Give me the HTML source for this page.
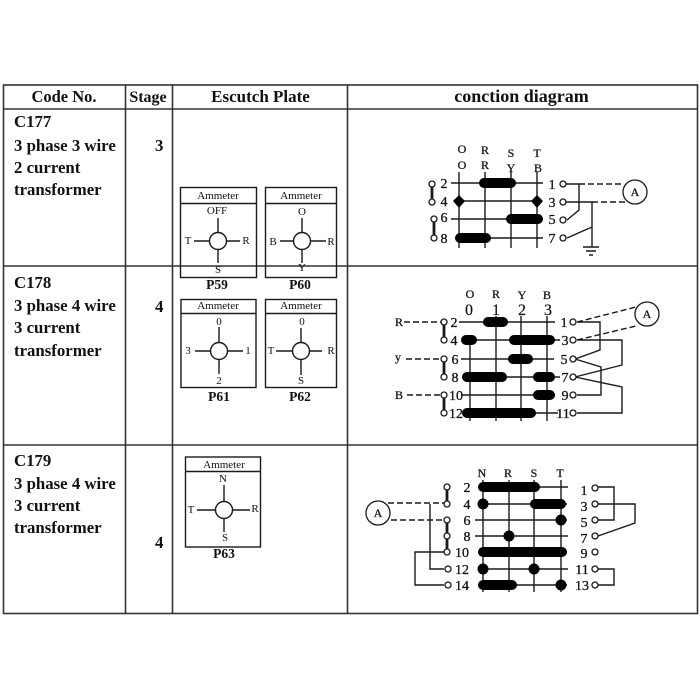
<!DOCTYPE html>
<html><head><meta charset="utf-8"><style>
html,body{margin:0;padding:0;background:#fff}
svg{display:block}
text{font-family:"Liberation Serif",serif;fill:#111}
.h{font-size:16.5px;font-weight:bold;text-anchor:middle}
.t{font-size:16.8px;font-weight:bold}
.n{font-size:14px;text-anchor:middle;stroke:#111;stroke-width:.3}
.g{font-size:16px;text-anchor:middle;stroke:#111;stroke-width:.2}
.s{font-size:12px;text-anchor:middle;stroke:#111;stroke-width:.25}
.m{font-size:11px;text-anchor:middle}
.p{font-size:13.500px;text-anchor:middle;font-weight:bold}
.l{stroke:#1a1a1a;stroke-width:1.4;fill:none}
.d{stroke:#1a1a1a;stroke-width:1.4;fill:none;stroke-dasharray:6 3}
.bar{stroke:#000;stroke-width:10;stroke-linecap:round;fill:none}
.o{fill:#fff;stroke:#1a1a1a;stroke-width:1.3}
.tb{stroke:#333;stroke-width:1.6;fill:none}
</style></head><body>
<svg width="700" height="700" viewBox="0 0 700 700" xmlns="http://www.w3.org/2000/svg">
<rect width="700" height="700" fill="#fff"/>
<g class="tb">
<rect x="3.500" y="85" width="694" height="528.500"/>
<path d="M3 109H697M3 266H697M3 445H697M125.500 85V613M172.500 85V613M347.500 85V613"/>
</g>
<text class="h" x="64" y="102">Code No.</text>
<text class="h" x="148" y="102" style="font-size:16px">Stage</text>
<text class="h" x="260.500" y="102" style="font-size:17px">Escutch Plate</text>
<text class="h" x="521.500" y="102" style="font-size:18px">conction diagram</text>

<text class="t" x="14" y="127">C177</text>
<text class="t" x="14" y="151">3 phase 3 wire</text>
<text class="t" x="14" y="173">2 current</text>
<text class="t" x="14" y="195">transformer</text>
<text class="t" x="155" y="151">3</text>
<text class="t" x="14" y="288">C178</text>
<text class="t" x="14" y="311">3 phase 4 wire</text>
<text class="t" x="14" y="333">3 current</text>
<text class="t" x="14" y="356">transformer</text>
<text class="t" x="155" y="312">4</text>
<text class="t" x="14" y="466">C179</text>
<text class="t" x="14" y="489">3 phase 4 wire</text>
<text class="t" x="14" y="511">3 current</text>
<text class="t" x="14" y="533">transformer</text>
<text class="t" x="155" y="548">4</text>

<!-- Plates -->
<g class="l">
<rect x="180.500" y="187.500" width="76" height="90"/><path d="M181 203.500H256"/>
<circle cx="218" cy="241" r="8.500"/><path d="M218 218V233M218 249V263M194 241H210M226 241H240"/>
<rect x="265.500" y="187.500" width="71" height="90"/><path d="M266 203.500H336"/>
<circle cx="302" cy="241" r="8.500"/><path d="M302 218V233M302 249V263M280 241H294M310 241H326"/>
<rect x="181" y="299.500" width="75" height="88"/><path d="M181 313.500H256"/>
<circle cx="219" cy="351" r="8.500"/><path d="M219 327V343M219 359V374M195 351H211M227 351H243"/>
<rect x="265.500" y="299.500" width="71" height="88"/><path d="M266 313.500H336"/>
<circle cx="301" cy="351" r="8.500"/><path d="M301 328V343M301 359V375M276 351H293M309 351H322"/>
<rect x="185.500" y="457" width="75" height="90"/><path d="M186 471.500H260"/>
<circle cx="224" cy="510" r="8.500"/><path d="M224 485V502M224 518V532M197 510H216M232 510H250"/>
</g>
<text class="m" x="218" y="199">Ammeter</text>
<text class="m" x="301" y="199">Ammeter</text>
<text class="m" x="218" y="309">Ammeter</text>
<text class="m" x="301" y="309">Ammeter</text>
<text class="m" x="224" y="468">Ammeter</text>
<text class="m" x="217" y="214">OFF</text><text class="m" x="188" y="244">T</text><text class="m" x="246" y="244">R</text><text class="m" x="218" y="273">S</text>
<text class="m" x="302" y="215">O</text><text class="m" x="273" y="245">B</text><text class="m" x="331" y="245">R</text><text class="m" x="302" y="271">Y</text>
<text class="m" x="219" y="325">0</text><text class="m" x="188" y="354">3</text><text class="m" x="248" y="354">1</text><text class="m" x="219" y="384">2</text>
<text class="m" x="302" y="325">0</text><text class="m" x="271" y="354">T</text><text class="m" x="331" y="354">R</text><text class="m" x="301" y="384">S</text>
<text class="m" x="223" y="482">N</text><text class="m" x="191" y="513">T</text><text class="m" x="255" y="512">R</text><text class="m" x="225" y="541">S</text>
<text class="p" x="217" y="289">P59</text>
<text class="p" x="300" y="289">P60</text>
<text class="p" x="219" y="401">P61</text>
<text class="p" x="300" y="401">P62</text>
<text class="p" x="224" y="558">P63</text>

<!-- Diagram 1 -->
<g class="l">
<path d="M459 172V248M485 172V248M511 172V248M537 172V248"/>
<path d="M451 183H543M461 201H540M451 219H543M455 238H543"/>
<path d="M432 187V199M434 222V235" style="stroke-width:2.800"/>
<path d="M566 184H579V210L567 220M566 202H592V247M592 227L567 238"/>
<path d="M583 247H599M586 251H596M589 255H593"/>
</g>
<path class="d" d="M579 184H623M592 202H628"/>
<path class="bar" d="M484 183H511M511 219H538M460 238H486"/>
<path d="M459 195L465 201 459 208 453 201ZM537 195L543 201 537 208 531 201Z" fill="#000"/>
<g class="o"><circle cx="432" cy="184" r="3"/><circle cx="432" cy="202" r="3"/><circle cx="434" cy="219" r="3"/><circle cx="434" cy="238" r="3"/><circle cx="563" cy="184" r="3"/><circle cx="563" cy="202" r="3"/><circle cx="563" cy="220" r="3"/><circle cx="563" cy="238" r="3"/><circle cx="635" cy="192" r="12"/></g>
<text class="n" x="444" y="188">2</text><text class="n" x="444" y="206">4</text><text class="n" x="444" y="222">6</text><text class="n" x="444" y="243">8</text>
<text class="n" x="552" y="189">1</text><text class="n" x="552" y="207">3</text><text class="n" x="552" y="224">5</text><text class="n" x="552" y="243">7</text>
<text class="s" x="462" y="153">O</text><text class="s" x="485" y="154">R</text><text class="s" x="511" y="157">S</text><text class="s" x="537" y="157">T</text>
<text class="s" x="462" y="169">O</text><text class="s" x="485" y="169">R</text><text class="s" x="511" y="172">Y</text><text class="s" x="538" y="172">B</text>
<text class="s" x="635" y="196">A</text>

<!-- Diagram 2 -->
<g class="l">
<path d="M470 335V421M496 316V421M521 316V421M547 316V421"/>
<path d="M459 322H555M476 340H560M461 359H554M476 377H560M461 395H554M476 413H558"/>
<path d="M444 325V337M444 362V375M444 398V411" style="stroke-width:2.800"/>
<path d="M577 322H600V350L575 359M577 340H622V365L575 377M575 359L601 367V395H577M575 377L622 387V413H577"/>
</g>
<path class="d" d="M404 322H441M406 359H441M407 395H441M577 322L636 307M577 340L636 326"/>
<path class="bar" d="M488 322H503M466 340H472M514 340H550M513 359H528M467 377H502M538 377H550M538 395H550M467 413H531"/>
<g class="o"><circle cx="444" cy="322" r="3"/><circle cx="444" cy="340" r="3"/><circle cx="444" cy="359" r="3"/><circle cx="444" cy="377" r="3"/><circle cx="444" cy="395" r="3"/><circle cx="444" cy="413" r="3"/><circle cx="573" cy="322" r="3"/><circle cx="573" cy="340" r="3"/><circle cx="573" cy="359" r="3"/><circle cx="573" cy="377" r="3"/><circle cx="573" cy="395" r="3"/><circle cx="573" cy="413" r="3"/><circle cx="647" cy="314" r="12"/></g>
<text class="n" x="454" y="327">2</text><text class="n" x="454" y="345">4</text><text class="n" x="455" y="364">6</text><text class="n" x="455" y="382">8</text><text class="n" x="456" y="400">10</text><text class="n" x="456" y="418">12</text>
<text class="n" x="564" y="327">1</text><text class="n" x="565" y="345">3</text><text class="n" x="564" y="364">5</text><text class="n" x="565" y="382">7</text><text class="n" x="565" y="400">9</text><text class="n" x="563" y="418">11</text>
<text class="s" x="470" y="298">O</text><text class="s" x="496" y="298">R</text><text class="s" x="522" y="299">Y</text><text class="s" x="547" y="299">B</text>
<text class="g" x="469" y="315">0</text><text class="g" x="496" y="315">1</text><text class="g" x="522" y="315">2</text><text class="g" x="548" y="315">3</text>
<text class="s" x="399" y="326">R</text><text class="s" x="398" y="361">y</text><text class="s" x="399" y="399">B</text><text class="s" x="647" y="318">A</text>

<!-- Diagram 3 -->
<g class="l">
<path d="M483 480V592M509 480V592M534 480V592M561 480V592"/>
<path d="M478 487H568M483 504H567M475 520H567M475 536H568M483 552H567M483 569H568M483 585H567"/>
<path d="M447 490V501M447 523V533M447 539V549" style="stroke-width:2.800"/>
<path d="M430 504V569H444M444 552H415V585H444"/>
<path d="M598 487H614V520H598M598 504H635V523L598 536M598 569H614V585H598"/>
</g>
<path class="d" d="M388 503H444M391 520H444"/>
<path class="bar" d="M483 487H535M535 504H561M483 552H562M483 585H512"/>
<g fill="#000"><circle cx="483" cy="504" r="5.500"/><circle cx="561" cy="520" r="5.500"/><circle cx="509" cy="536" r="5.500"/><circle cx="483" cy="569" r="5.500"/><circle cx="534" cy="569" r="5.500"/><circle cx="561" cy="585" r="5.500"/></g>
<g class="o"><circle cx="447" cy="487" r="3"/><circle cx="447" cy="504" r="3"/><circle cx="447" cy="520" r="3"/><circle cx="447" cy="536" r="3"/><circle cx="447" cy="552" r="3"/><circle cx="448" cy="569" r="3"/><circle cx="448" cy="585" r="3"/><circle cx="595" cy="488" r="3"/><circle cx="595" cy="504" r="3"/><circle cx="595" cy="520" r="3"/><circle cx="595" cy="536" r="3"/><circle cx="595" cy="552" r="3"/><circle cx="595" cy="569" r="3"/><circle cx="595" cy="585" r="3"/><circle cx="378" cy="513" r="12"/></g>
<text class="n" x="467" y="492">2</text><text class="n" x="467" y="509">4</text><text class="n" x="467" y="525">6</text><text class="n" x="467" y="541">8</text><text class="n" x="462" y="557">10</text><text class="n" x="462" y="574">12</text><text class="n" x="462" y="590">14</text>
<text class="n" x="584" y="495">1</text><text class="n" x="584" y="511">3</text><text class="n" x="584" y="527">5</text><text class="n" x="584" y="543">7</text><text class="n" x="584" y="558">9</text><text class="n" x="582" y="574">11</text><text class="n" x="582" y="590">13</text>
<text class="s" x="482" y="477">N</text><text class="s" x="508" y="477">R</text><text class="s" x="534" y="477">S</text><text class="s" x="560" y="477">T</text>
<text class="s" x="378" y="517">A</text>
</svg>
</body></html>
